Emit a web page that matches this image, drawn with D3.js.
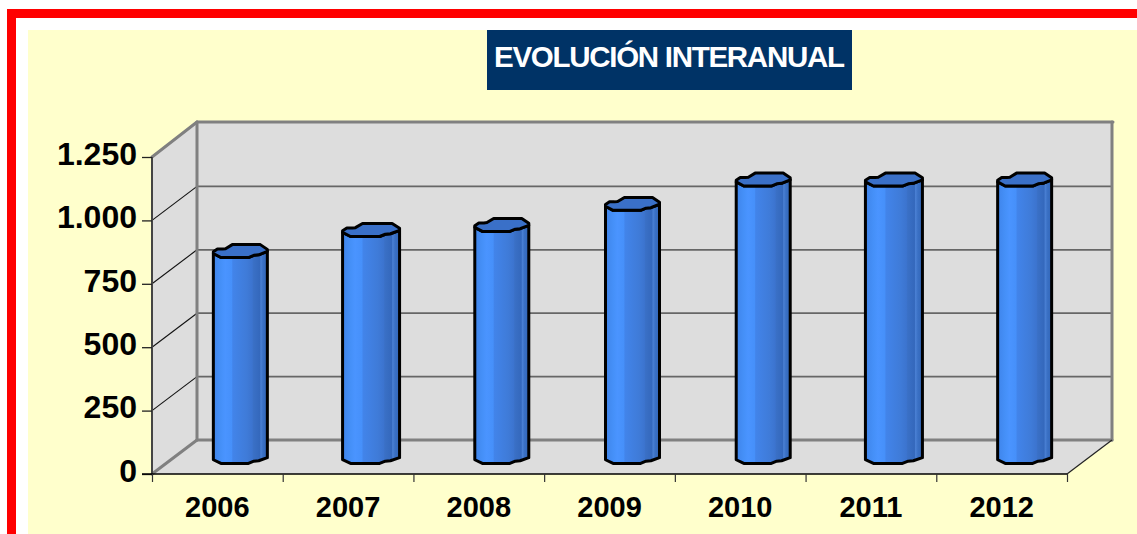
<!DOCTYPE html>
<html><head><meta charset="utf-8">
<script src="https://cdn.jsdelivr.net/npm/d3@7"></script>
<style>
html,body{margin:0;padding:0;background:#fff;overflow:hidden}
svg{display:block}
text{font-family:"Liberation Sans",Arial,sans-serif;font-weight:bold;fill:#000}
</style></head><body>
<svg id="c" width="1137" height="534"></svg>
<script>
const years = ["2006","2007","2008","2009","2010","2011","2012"];
const totals = [812,895,915,998,1094,1094,1094];
const yTicks = [0,250,500,750,1000,1250];
const titleText = "EVOLUCIÓN INTERANUAL";

const svg = d3.select("#c");
const W=1137,H=534;
const L=152,R=1067,B=474,T=157,DX=45,DY=-34,TOPFIX=-1;
const x = d3.scaleBand().domain(years).range([L,R]).padding(0);
const y = d3.scaleLinear().domain([0,1250]).range([B,T]);
const edge = d3.scaleLinear().domain([0,years.length]).range([L,R]);

// frame
svg.append("rect").attr("x",7).attr("y",9).attr("width",W-7).attr("height",H-9).attr("fill","#f00");
svg.append("rect").attr("x",16).attr("y",18).attr("width",W-16).attr("height",H-18).attr("fill","#fff");
svg.append("rect").attr("x",28).attr("y",30).attr("width",W-28).attr("height",H-30).attr("fill","#ffc");

// gradient
const defs=svg.append("defs");
const g=defs.append("linearGradient").attr("id","barG").attr("x1",0).attr("x2",1).attr("y1",0).attr("y2",0);
[[0,"#3f84ea"],[0.14,"#4590f8"],[0.22,"#4a94ff"],[0.34,"#4690fa"],[0.36,"#4284ea"],[0.62,"#3f7bd8"],[0.72,"#3c74cf"],[0.74,"#3a70c6"],[0.86,"#3468bc"],[0.88,"#4a80d4"],[0.92,"#3a70c4"],[1,"#3266b8"]]
  .forEach(s=>g.append("stop").attr("offset",s[0]).attr("stop-color",s[1]));

// walls
const TB=T+DY+TOPFIX;
const poly=(pts,fill)=>svg.append("polygon").attr("points",pts.map(p=>p.join(",")).join(" ")).attr("fill",fill);
poly([[L+DX,TB],[R+DX+1,TB],[R+DX+1,B+DY],[L+DX,B+DY]],"#ddd");
poly([[L,T],[L+DX,TB],[L+DX,B+DY],[L,B]],"#ddd");
poly([[L,B],[L+DX,B+DY],[R+DX+1,B+DY],[R,B]],"#ddd");

// gridlines
yTicks.slice(1,-1).forEach(v=>{
  svg.append("line").attr("x1",L+DX).attr("x2",R+DX).attr("y1",y(v)+DY).attr("y2",y(v)+DY).attr("stroke","#666").attr("stroke-width",1.8);
  svg.append("line").attr("x1",L).attr("x2",L+DX).attr("y1",y(v)).attr("y2",y(v)+DY).attr("stroke","#111").attr("stroke-width",1.1);
});
const wall="#808080";
const wl=(a,b,c,d)=>svg.append("line").attr("x1",a).attr("y1",b).attr("x2",c).attr("y2",d).attr("stroke",wall).attr("stroke-width",3).attr("stroke-linecap","round");
wl(L+DX,TB,R+DX+1,TB);
wl(L+DX,TB,L+DX,B+DY);
wl(R+DX,TB,R+DX,B+DY);
wl(L+DX,B+DY,R+DX,B+DY);
wl(L,T,L+DX,TB);
wl(L,B,L+DX,B+DY);
svg.append("line").attr("x1",R).attr("y1",B).attr("x2",R+DX).attr("y2",B+DY).attr("stroke","#222").attr("stroke-width",1.2);

// axes
const fmt=d=>d3.format(",")(d).replace(",",".");
const ya=svg.append("g").attr("transform",`translate(${L},0)`).call(d3.axisLeft(y).tickValues(yTicks).tickFormat(fmt).tickSize(10).tickPadding(5));
ya.select(".domain").attr("stroke","#444").attr("stroke-width",2).attr("d",`M0,${T}V${B}`);
ya.selectAll("line").attr("stroke","#222").attr("stroke-width",1.3);
ya.selectAll("text").style("font-size","32px").attr("dy","0.23em");
const xe=svg.append("g").attr("transform",`translate(0,${B})`).call(d3.axisBottom(edge).ticks(years.length).tickFormat("").tickSize(8));
xe.select(".domain").attr("stroke","#000").attr("stroke-width",1.4).attr("d",`M${L-10},0H${R}`);
xe.selectAll("line").attr("stroke","#333").attr("stroke-width",1.2);
const xa=svg.append("g").attr("transform",`translate(0,${B})`).call(d3.axisBottom(x).tickSize(0).tickPadding(22));
xa.select(".domain").remove();
xa.selectAll("text").style("font-size","29px").attr("dx","0");

// bars: wobbly outline of the cylinder ends, relative to centre (half-width, half-height units)
const topFront=[[-1,0.35],[-0.72,0.95],[0.3,0.95],[0.5,0.62],[0.68,0.55],[1,0.05]];
const topBack=[[1,-0.25],[0.74,-0.95],[-0.3,-0.95],[-0.55,-0.35],[-0.66,-0.3],[-0.85,-0.3],[-1,0.1]];
const botFront=[[-1,0.4],[-0.72,0.95],[0.3,0.95],[0.5,0.62],[0.68,0.55],[1,0.1]];
const HW=27,HH=6.8;
const line=d3.line();
const bars=svg.append("g");
years.forEach((yr,i)=>{
  const cx=x(yr)+x.bandwidth()/2+DX/2+0.5, yb=y(0)+DY/2, yt=y(totals[i])+DY/2;
  const hw=HW+(yr==="2007"||yr==="2011"?1.5:0);
  const pt=(p,cy)=>[cx+p[0]*hw,cy+p[1]*HH];
  const side=[...topFront.map(p=>pt(p,yt)),...[...botFront].reverse().map(p=>pt(p,yb))];
  bars.append("path").attr("d",line(side)+"Z").attr("fill","url(#barG)").attr("stroke","#000").attr("stroke-width",3).attr("stroke-linejoin","round");
  const cap=[...topFront,...topBack].map(p=>pt(p,yt));
  bars.append("path").attr("d",line(cap)+"Z").attr("fill","#3a70c8").attr("stroke","#000").attr("stroke-width",3).attr("stroke-linejoin","round");
});

// title
svg.append("rect").attr("x",487).attr("y",30).attr("width",365).attr("height",60).attr("fill","#003366");
svg.append("text").attr("x",494).attr("y",67).attr("textLength",351).attr("lengthAdjust","spacing").style("font-size","29.5px").style("fill","#fff").text(titleText);
</script>
</body></html>
